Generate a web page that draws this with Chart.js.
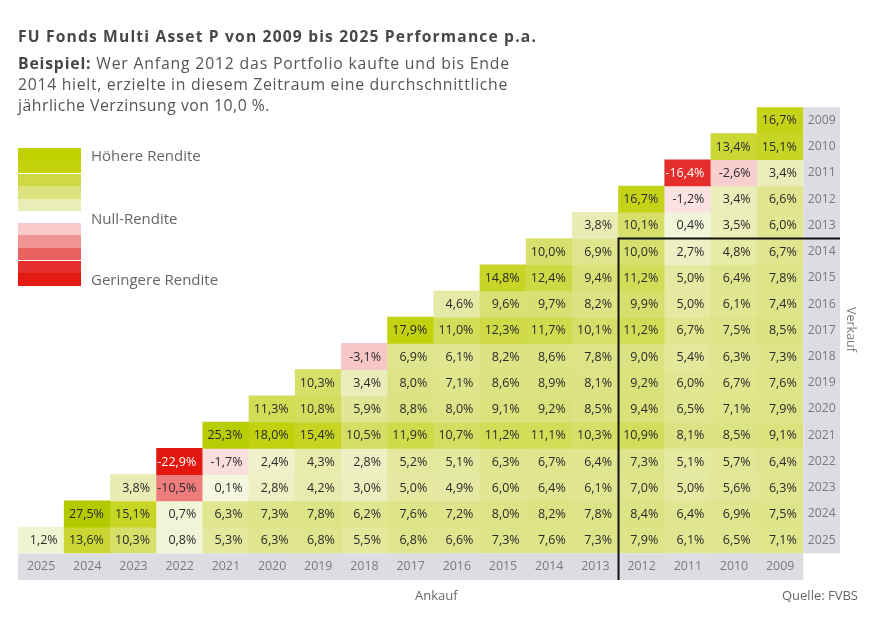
<!DOCTYPE html>
<html lang="de">
<head>
<meta charset="utf-8">
<title>FU Fonds Multi Asset P</title>
<script src="https://cdn.jsdelivr.net/npm/chart.js@4.4.1/dist/chart.umd.min.js"></script>
<style>
  body { margin: 0; background: #fff; font-family: "Open Sans", sans-serif; }
  #wrap { position: relative; width: 880px; height: 633px; overflow: hidden; }
  #chart { position: absolute; left: 0; top: 0; }
  .txt { position: absolute; white-space: nowrap; }
  .line { display: block; }
  .line span.fit { display: inline-block; }
  #title { left: 18px; top: 26px; font-size: 15.6px; line-height: 20px; font-weight: 700; color: #474747; }
  #sub { left: 18px; top: 52.5px; font-size: 15.8px; line-height: 21px; color: #555; }
  #sub b { color: #474747; }
  .band { position: absolute; left: 18px; width: 63px; height: 12.6px; }
  .leg { left: 91px; font-size: 15px; line-height: 20px; color: #666; }
  #ankauf { left: 415px; top: 586px; font-size: 13px; line-height: 18px; color: #666; }
  #quelle { right: 22px; top: 586px; font-size: 13px; line-height: 18px; color: #666; }
  #verkauf { left: 842px; top: 307px; font-size: 12.5px; line-height: 18px; color: #777;
             transform: rotate(90deg); transform-origin: 9px 9px; }
</style>
</head>
<body>
<div id="wrap">
  <canvas id="chart" width="880" height="633"></canvas>
  <div id="title" class="txt"><span class="fit" data-w="519">FU Fonds Multi Asset P von 2009 bis 2025 Performance p.a.</span></div>
  <div id="sub" class="txt">
    <span class="line"><span class="fit" data-w="492"><b>Beispiel:</b> Wer Anfang 2012 das Portfolio kaufte und bis Ende</span></span>
    <span class="line"><span class="fit" data-w="490">2014 hielt, erzielte in diesem Zeitraum eine durchschnittliche</span></span>
    <span class="line"><span class="fit" data-w="252">jährliche Verzinsung von 10,0 %.</span></span>
  </div>

  <div class="band" style="top:148.3px;background:#c1d100"></div>
  <div class="band" style="top:160.9px;background:#c5d30e"></div>
  <div class="band" style="top:173.5px;background:#ced944"></div>
  <div class="band" style="top:186.1px;background:#dbe27e"></div>
  <div class="band" style="top:198.7px;background:#e9edb6"></div>
  <div class="band" style="top:222.7px;background:#f8caca"></div>
  <div class="band" style="top:235.3px;background:#f09494"></div>
  <div class="band" style="top:247.9px;background:#ea6161"></div>
  <div class="band" style="top:260.5px;background:#e52f2d"></div>
  <div class="band" style="top:273.1px;background:#e31912"></div>
  <div class="txt leg" style="top:145px">Höhere Rendite</div>
  <div class="txt leg" style="top:207.5px">Null-Rendite</div>
  <div class="txt leg" style="top:269px">Geringere Rendite</div>

  <div id="ankauf" class="txt">Ankauf</div>
  <div id="quelle" class="txt">Quelle: FVBS</div>
  <div id="verkauf" class="txt">Verkauf</div>
</div>

<script>
// Ankauf (columns, left to right) and Verkauf (rows, top to bottom)
var buyYears = ['2025', '2024', '2023', '2022', '2021', '2020', '2019', '2018', '2017',
                '2016', '2015', '2014', '2013', '2012', '2011', '2010', '2009']
var sellYears = ['2009', '2010', '2011', '2012', '2013', '2014', '2015', '2016', '2017',
                 '2018', '2019', '2020', '2021', '2022', '2023', '2024', '2025']

// performance p.a. per sell year, read left to right starting at buy year = sell year
var r2009 = [16.7]
var r2010 = [13.4, 15.1]
var r2011 = [-16.4, -2.6, 3.4]
var r2012 = [16.7, -1.2, 3.4, 6.6]
var r2013 = [3.8, 10.1, 0.4, 3.5, 6.0]
var r2014 = [10.0, 6.9, 10.0, 2.7, 4.8, 6.7]
var r2015 = [14.8, 12.4, 9.4, 11.2, 5.0, 6.4, 7.8]
var r2016 = [4.6, 9.6, 9.7, 8.2, 9.9, 5.0, 6.1, 7.4]
var r2017 = [17.9, 11.0, 12.3, 11.7, 10.1, 11.2, 6.7, 7.5, 8.5]
var r2018 = [-3.1, 6.9, 6.1, 8.2, 8.6, 7.8, 9.0, 5.4, 6.3, 7.3]
var r2019 = [10.3, 3.4, 8.0, 7.1, 8.6, 8.9, 8.1, 9.2, 6.0, 6.7, 7.6]
var r2020 = [11.3, 10.8, 5.9, 8.8, 8.0, 9.1, 9.2, 8.5, 9.4, 6.5, 7.1, 7.9]
var r2021 = [25.3, 18.0, 15.4, 10.5, 11.9, 10.7, 11.2, 11.1, 10.3, 10.9, 8.1, 8.5, 9.1]
var r2022 = [-22.9, -1.7, 2.4, 4.3, 2.8, 5.2, 5.1, 6.3, 6.7, 6.4, 7.3, 5.1, 5.7, 6.4]
var r2023 = [3.8, -10.5, 0.1, 2.8, 4.2, 3.0, 5.0, 4.9, 6.0, 6.4, 6.1, 7.0, 5.0, 5.6, 6.3]
var r2024 = [27.5, 15.1, 0.7, 6.3, 7.3, 7.8, 6.2, 7.6, 7.2, 8.0, 8.2, 7.8, 8.4, 6.4, 6.9, 7.5]
var r2025 = [1.2, 13.6, 10.3, 0.8, 5.3, 6.3, 6.8, 5.5, 6.8, 6.6, 7.3, 7.6, 7.3, 7.9, 6.1, 6.5, 7.1]

var rows = [r2009, r2010, r2011, r2012, r2013, r2014, r2015, r2016, r2017,
            r2018, r2019, r2020, r2021, r2022, r2023, r2024, r2025]

// the worked example in the text: bought 2012, sold 2014
var exampleBuy = '2012'
var exampleSell = '2014'

// colour ramps
var greenStops = [[0, [244, 246, 222]], [2.5, [238, 241, 200]], [4, [232, 236, 176]], [6, [225, 230, 146]],
                  [9, [219, 226, 128]], [11, [211, 221, 90]], [14, [201, 214, 44]], [18, [194, 210, 14]],
                  [27, [180, 202, 0]]]
var redStops = [[0, [253, 234, 234]], [-1.5, [251, 224, 224]], [-3, [247, 200, 200]], [-10.5, [238, 124, 124]],
                [-16.4, [229, 46, 44]], [-23, [227, 22, 16]]]

function shade(v) {
    var stops = v < 0 ? redStops : greenStops
    var a = Math.abs(v)
    for (var k = 1; k < stops.length; k++) {
        var lo = stops[k - 1], hi = stops[k]
        if (a <= Math.abs(hi[0]) || k == stops.length - 1) {
            var t = (a - Math.abs(lo[0])) / (Math.abs(hi[0]) - Math.abs(lo[0]))
            t = Math.max(0, Math.min(1, t))
            var c = lo[1].map(function(x, n) { return Math.round(x + (hi[1][n] - x) * t) })
            return 'rgb(' + c.join(',') + ')'
        }
    }
}

function fmt(v) {
    return v.toFixed(1).replace('.', ',') + '%'
}

// stretch the header lines to the width they have in the original layout
document.querySelectorAll('.fit').forEach(function(el) {
    var w = el.getBoundingClientRect().width
    var n = el.textContent.length
    el.style.letterSpacing = ((parseFloat(el.dataset.w) - w) / n) + 'px'
})

var datasets = sellYears.map(function(year, i) {
    var start = buyYears.indexOf(year)
    var data = [], values = [], colors = []
    buyYears.forEach(function(b, j) {
        if (j >= start) {
            var v = rows[i][j - start]
            data.push([i, i + 1])
            values.push(v)
            colors.push(shade(v))
        } else {
            data.push(null)
            values.push(null)
            colors.push('rgba(0,0,0,0)')
        }
    })
    return {
        label: year,
        data: data,
        values: values,
        backgroundColor: colors,
        borderWidth: 0,
        barPercentage: 1,
        categoryPercentage: 1,
        grouped: false
    }
})

// grey bands behind the axis labels
var axisBands = {
    id: 'axisBands',
    beforeDraw: function(chart) {
        var ctx = chart.ctx, x = chart.scales.x, y = chart.scales.y
        ctx.save()
        ctx.fillStyle = '#dcdde2'
        ctx.fillRect(x.left, x.top, x.right - x.left, x.bottom - x.top)
        ctx.fillRect(y.left, y.top, y.right - y.left, y.bottom - y.top)
        ctx.restore()
    }
}

// value text in every cell
var cellLabels = {
    id: 'cellLabels',
    afterDatasetsDraw: function(chart) {
        var ctx = chart.ctx
        ctx.save()
        ctx.font = '12.5px "Open Sans"'
        ctx.textAlign = 'right'
        ctx.textBaseline = 'middle'
        chart.data.datasets.forEach(function(ds, i) {
            chart.getDatasetMeta(i).data.forEach(function(bar, j) {
                var v = ds.values[j]
                if (v === null) return
                var p = bar.getProps(['x', 'y', 'base', 'width'], true)
                ctx.fillStyle = v < -15 ? '#ffffff' : '#2a2a2a'
                ctx.fillText(fmt(v), p.x + p.width / 2 - 6.5, (p.y + p.base) / 2 + 0.5)
            })
        })
        ctx.restore()
    }
}

// black frame around the example region
var exampleFrame = {
    id: 'exampleFrame',
    afterDraw: function(chart) {
        var ctx = chart.ctx, x = chart.scales.x, y = chart.scales.y
        var colW = (x.right - x.left) / buyYears.length
        var lx = x.getPixelForValue(buyYears.indexOf(exampleBuy)) - colW / 2
        var ty = y.getPixelForValue(sellYears.indexOf(exampleSell))
        ctx.save()
        ctx.strokeStyle = '#111'
        ctx.lineWidth = 2
        ctx.beginPath()
        ctx.moveTo(lx, x.bottom)
        ctx.lineTo(lx, ty)
        ctx.lineTo(y.right, ty)
        ctx.stroke()
        ctx.restore()
    }
}

var ctx = document.getElementById('chart').getContext('2d')
var myChart = new Chart(ctx, {
    type: 'bar',
    data: {
        labels: buyYears,
        datasets: datasets
    },
    options: {
        responsive: false,
        animation: false,
        events: [],
        layout: {
            padding: { left: 18, top: 107.3, right: 40, bottom: 53 }
        },
        scales: {
            x: {
                type: 'category',
                position: 'bottom',
                grid: { display: false, drawTicks: false },
                border: { display: false },
                ticks: {
                    color: '#7a7a7a',
                    font: { family: 'Open Sans', size: 12.4 },
                    padding: 6,
                    maxRotation: 0,
                    autoSkip: false
                },
                afterFit: function(s) { s.height = 26.7 }
            },
            y: {
                type: 'linear',
                position: 'right',
                reverse: true,
                min: 0,
                max: sellYears.length,
                grid: { display: false, drawTicks: false },
                border: { display: false },
                afterBuildTicks: function(s) {
                    s.ticks = sellYears.map(function(yr, i) { return { value: i + 0.5 } })
                },
                ticks: {
                    color: '#7a7a7a',
                    font: { family: 'Open Sans', size: 12.2 },
                    padding: 4.5,
                    crossAlign: 'near',
                    callback: function(value) { return sellYears[Math.floor(value)] }
                },
                afterFit: function(s) { s.width = 36.7 }
            }
        },
        plugins: {
            legend: { display: false },
            tooltip: { enabled: false }
        }
    },
    plugins: [axisBands, cellLabels, exampleFrame]
})
</script>
</body>
</html>
